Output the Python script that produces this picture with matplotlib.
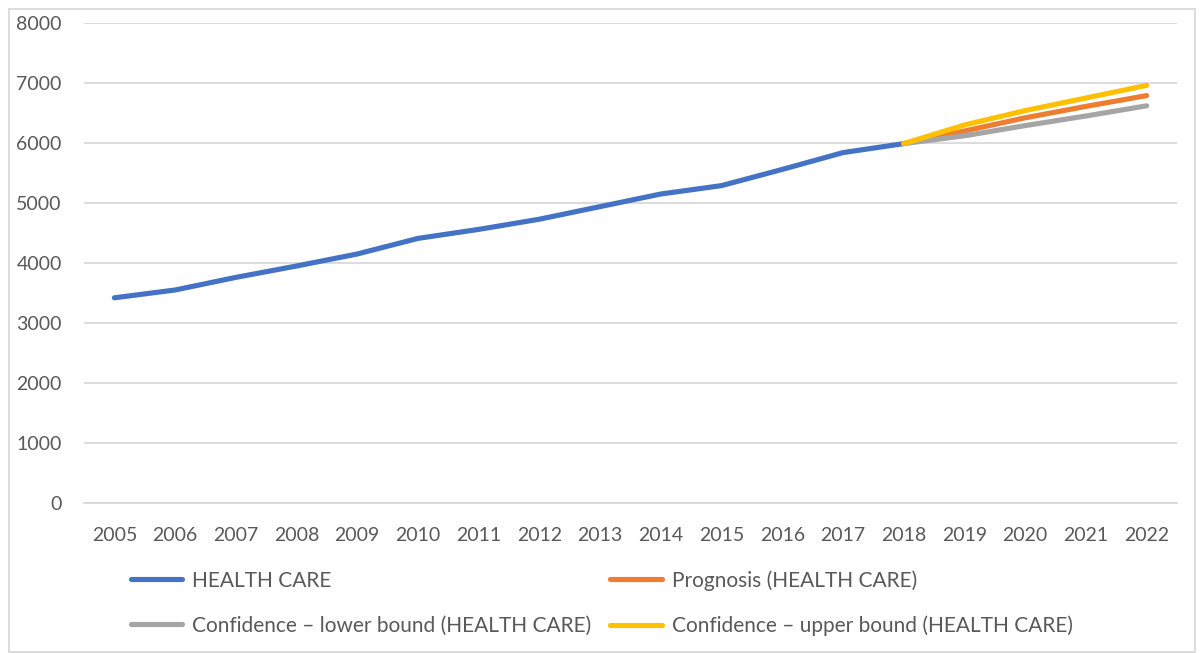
import numpy as np
import matplotlib
matplotlib.use('Agg')
import matplotlib.pyplot as plt
from matplotlib.patches import Rectangle

plt.rcParams['font.family'] = ['Lato', 'DejaVu Sans']

years = [str(y) for y in range(2005, 2023)]
health_care = [3420, 3550, 3760, 3950, 4150, 4410, 4560, 4730, 4940, 5150, 5290, 5560, 5840, 5990]
prognosis = [5990, 6200, 6420, 6610, 6790]
lower_bound = [5990, 6120, 6290, 6450, 6620]
upper_bound = [5990, 6300, 6540, 6750, 6960]

c_blue = '#4472C4'
c_orange = '#ED7D31'
c_grey = '#A5A5A5'
c_yellow = '#FFC000'
txt = '#595959'

fig = plt.figure(figsize=(12, 6.53), dpi=100)
ax = fig.add_axes([84/1200, 1-503/653, (1177-84)/1200, (503-23)/653])

x_hist = np.arange(len(health_care))
x_fc = np.arange(len(health_care)-1, len(years))

lw = 3.7
l1, = ax.plot(x_hist, health_care, color=c_blue, lw=lw, solid_capstyle='round', solid_joinstyle='round', label='HEALTH CARE')
l2, = ax.plot(x_fc, prognosis, color=c_orange, lw=lw, solid_capstyle='round', solid_joinstyle='round', label='Prognosis (HEALTH CARE)')
l3, = ax.plot(x_fc, lower_bound, color=c_grey, lw=lw, solid_capstyle='round', solid_joinstyle='round', label='Confidence – lower bound (HEALTH CARE)')
l4, = ax.plot(x_fc, upper_bound, color=c_yellow, lw=lw, solid_capstyle='round', solid_joinstyle='round', label='Confidence – upper bound (HEALTH CARE)')

ax.set_xlim(-0.5, len(years)-0.5)
ax.set_ylim(0, 8000)
ax.set_yticks(np.arange(0, 8001, 1000))
ax.set_xticks(np.arange(len(years)))
ax.set_xticklabels(years)
ax.grid(axis='y', color='#D9D9D9', lw=1.3)
ax.set_axisbelow(True)
for s in ['top', 'right', 'left']:
    ax.spines[s].set_visible(False)
ax.spines['bottom'].set_color('#D9D9D9')
ax.spines['bottom'].set_linewidth(1.3)
ax.tick_params(axis='both', length=0, labelsize=14, labelcolor=txt)
ax.tick_params(axis='y', pad=16)
ax.tick_params(axis='x', pad=17)

leg = fig.legend([l1, l3, l2, l4], [l1.get_label(), l3.get_label(), l2.get_label(), l4.get_label()],
                 ncol=2, loc='upper left', bbox_to_anchor=(131/1200, 1-570/653), frameon=False,
                 fontsize=15, handlelength=2.45, handletextpad=0.48, columnspacing=0.92,
                 labelspacing=1.2, borderpad=0, borderaxespad=0)
for t in leg.get_texts():
    t.set_color(txt)

fig.patches.append(Rectangle((9/1200, 0.002), 1 - 14/1200, 1 - 9/653 - 0.002, transform=fig.transFigure,
                             fill=False, edgecolor='#D9D9D9', lw=1.3))

fig.savefig('out.png', dpi=100)
